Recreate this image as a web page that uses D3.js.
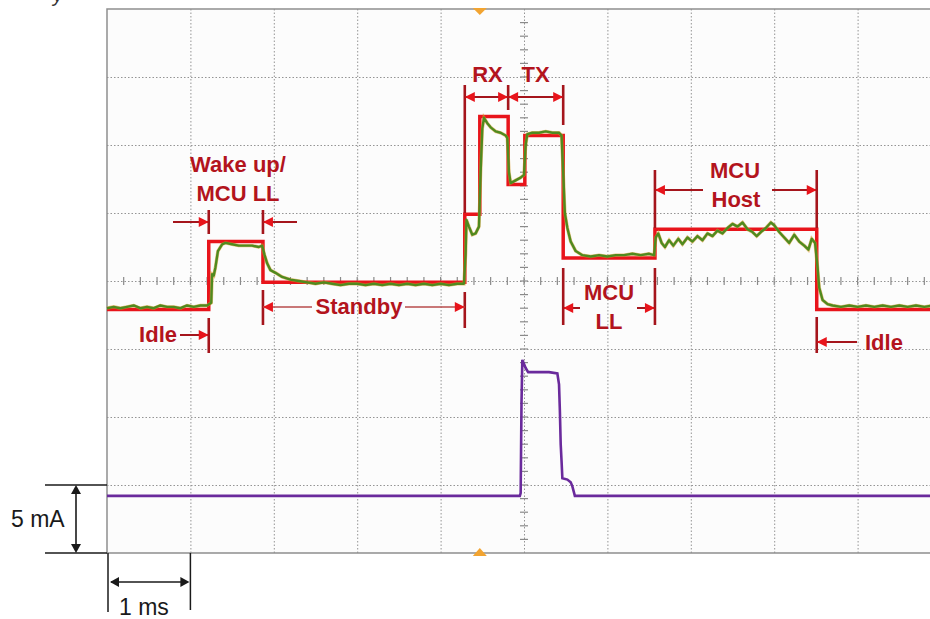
<!DOCTYPE html>
<html>
<head>
<meta charset="utf-8">
<script src="https://cdn.jsdelivr.net/npm/d3@7"></script>
<style>
  body { margin: 0; background: #fff; }
  svg { display: block; font-family: "Liberation Sans", Arial, sans-serif; }
</style>
</head>
<body>
<svg id="chart"></svg>
<script>
var width = 930,
	height = 619;

// red idealised staircase: step start time (ms) and level (mA, screen units)
var stepTimes  = [0, 1.22, 1.87, 4.29, 4.47, 4.81, 5.01, 5.47, 6.57, 8.51, 10];
var stepLevels = [17.9, 22.9, 19.9, 24.9, 32.1, 27.1, 30.7, 21.7, 23.8, 17.9, 17.9];

var greenT = [0.00,0.08,0.16,0.24,0.32,0.40,0.48,0.56,0.64,0.72,0.80,0.88,0.96,1.04,1.12,1.20,
	1.25,1.26,1.28,1.30,1.33,1.38,1.42,1.50,1.58,1.66,1.74,1.82,1.86,
	1.89,1.92,1.96,2.02,2.10,2.20,2.30,2.40,2.50,2.60,2.70,2.80,2.90,3.00,3.10,3.20,3.30,3.40,3.50,3.60,3.70,3.80,3.90,4.00,4.10,4.20,4.28,
	4.30,4.31,4.34,4.38,4.42,4.46,4.48,4.50,4.52,4.56,4.60,4.66,4.72,4.78,4.80,4.82,4.84,4.90,4.96,5.00,
	5.02,5.04,5.10,5.18,5.26,5.34,5.42,5.45,5.47,5.49,5.52,5.56,5.62,5.70,5.80,5.90,6.00,6.10,6.20,6.30,6.40,6.50,6.56,
	6.58,6.61,6.65,6.69,6.74,6.79,6.85,6.90,6.96,7.02,7.08,7.14,7.20,7.26,7.32,7.38,7.44,7.50,7.56,7.62,7.68,7.74,7.79,7.84,7.90,7.96,8.00,8.06,8.12,8.18,8.24,8.30,8.36,8.41,8.45,8.49,
	8.52,8.54,8.58,8.64,8.70,8.80,8.90,9.00,9.10,9.20,9.30,9.40,9.50,9.60,9.70,9.80,9.90,10.0];
var greenI = [18.0,18.1,18.0,18.1,18.2,18.0,18.1,18.0,18.2,18.1,18.1,18.0,18.2,18.1,18.2,18.2,
	18.4,20.5,20.4,21.0,22.2,22.7,22.8,22.7,22.6,22.6,22.6,22.5,22.6,
	21.9,21.3,20.8,20.6,20.3,20.1,20.0,19.9,19.8,19.9,19.8,19.7,19.8,19.8,19.7,19.8,19.7,19.8,19.7,19.8,19.7,19.8,19.7,19.8,19.7,19.8,19.8,
	22.0,24.5,24.0,23.4,23.5,24.0,28.0,31.2,32.0,31.6,31.3,31.0,30.9,30.7,30.5,28.0,27.2,27.4,27.6,27.8,
	30.0,30.8,30.9,30.9,31.0,30.9,30.9,30.7,28.0,25.0,23.9,22.9,22.2,21.9,21.8,21.9,21.8,21.9,21.9,22.0,21.9,22.0,21.9,
	23.2,23.5,22.8,22.5,23.0,22.6,23.1,22.7,23.2,22.9,23.3,23.0,23.5,23.3,23.7,23.5,23.9,24.2,24.0,24.3,23.8,23.6,23.3,23.6,23.9,24.3,24.1,23.6,23.2,22.8,23.4,22.9,22.6,22.3,23.1,22.8,
	21.0,19.5,18.6,18.3,18.2,18.1,18.2,18.1,18.2,18.1,18.2,18.1,18.2,18.1,18.2,18.1,18.2,18.1];

// purple radio current trace
var purpleT = [0, 4.95, 4.96, 4.97, 4.98, 5.00, 5.02, 5.05, 5.20, 5.30, 5.40, 5.42, 5.43, 5.44, 5.45, 5.46, 5.52, 5.56, 5.58, 5.61, 10];
var purpleI = [4.2, 4.2, 4.4, 11.0, 14.2, 13.9, 13.6, 13.3, 13.3, 13.3, 13.2, 12.4, 10.5, 8.0, 6.8, 5.5, 5.4, 5.2, 4.9, 4.2, 4.2];

var triggerT = 4.47;

var svg = d3.select("#chart")
			.attr("width", width)
			.attr("height", height);

var x = d3.scaleLinear().domain([0, 10]).range([107, 941]);
var y = d3.scaleLinear().domain([0, 40]).range([553, 9]);

var red = "#e8141b",
	dark = "#a5151c",
	txt = "#b3141d";

// plot background
svg.append("rect")
	.attr("x", x(0)).attr("y", y(40))
	.attr("width", x(10) - x(0)).attr("height", y(0) - y(40))
	.attr("fill", "#fcfcfc");

// dotted grid
var gx = svg.append("g")
	.attr("transform", "translate(0," + y(0) + ")")
	.call(d3.axisBottom(x).tickValues(d3.range(1, 10)).tickSize(-(y(0) - y(40))).tickFormat(""));
var gy = svg.append("g")
	.attr("transform", "translate(" + x(0) + ",0)")
	.call(d3.axisLeft(y).tickValues(d3.range(5, 40, 5)).tickSize(-(x(10) - x(0))).tickFormat(""));
[gx, gy].forEach(function(g) {
	g.select(".domain").remove();
	g.selectAll("line")
		.attr("stroke", "#949494")
		.attr("stroke-width", 1)
		.attr("stroke-dasharray", "1.5,2");
});

// minor ticks on centre lines
svg.append("g").selectAll("line")
	.data(d3.range(0.2, 10, 0.2))
	.enter().append("line")
	.attr("x1", function(d) { return x(d); })
	.attr("x2", function(d) { return x(d); })
	.attr("y1", y(20) - 4).attr("y2", y(20) + 4)
	.attr("stroke", "#8a8a8a").attr("stroke-width", 1.2);
svg.append("g").selectAll("line")
	.data(d3.range(1, 40, 1))
	.enter().append("line")
	.attr("y1", function(d) { return y(d); })
	.attr("y2", function(d) { return y(d); })
	.attr("x1", x(5) - 4).attr("x2", x(5) + 4)
	.attr("stroke", "#8a8a8a").attr("stroke-width", 1.2);

// frame
svg.append("rect")
	.attr("x", x(0)).attr("y", y(40))
	.attr("width", x(10) - x(0)).attr("height", y(0) - y(40))
	.attr("fill", "none")
	.attr("stroke", "#8e8e8e")
	.attr("stroke-width", 1.5);

// traces
var stepData = stepTimes.map(function(t, i) { return [t, stepLevels[i]]; });
var greenData = greenT.map(function(t, i) { return [t, greenI[i]]; });
var purpleData = purpleT.map(function(t, i) { return [t, purpleI[i]]; });

var line = d3.line()
	.x(function(d) { return x(d[0]); })
	.y(function(d) { return y(d[1]); });

svg.append("path")
	.attr("d", line.curve(d3.curveStepAfter)(stepData))
	.attr("fill", "none")
	.attr("stroke", red)
	.attr("stroke-width", 3.5);

svg.append("path")
	.attr("d", line.curve(d3.curveLinear)(greenData))
	.attr("fill", "none")
	.attr("stroke", "#d99a2a")
	.attr("stroke-width", 3.4)
	.attr("opacity", 0.6);
svg.append("path")
	.attr("d", line(greenData))
	.attr("fill", "none")
	.attr("stroke", "#4f8a1f")
	.attr("stroke-width", 2.4)
	.attr("stroke-linejoin", "round");

svg.append("path")
	.attr("d", line(purpleData))
	.attr("fill", "none")
	.attr("stroke", "#6a2a9c")
	.attr("stroke-width", 2.6);

// trigger markers
var tri = svg.append("g").attr("fill", "#f2a431");
tri.append("path")
	.attr("d", "M" + (x(triggerT) - 7) + "," + (y(40) - 1) + "L" + (x(triggerT) + 7) + "," + (y(40) - 1) + "L" + x(triggerT) + "," + (y(40) + 6) + "Z");
tri.append("path")
	.attr("d", "M" + (x(triggerT) - 7) + "," + (y(0) + 3) + "L" + (x(triggerT) + 7) + "," + (y(0) + 3) + "L" + x(triggerT) + "," + (y(0) - 5) + "Z");

// annotation helpers
var ann = svg.append("g");

function bar(px, y1, y2, col, w) {
	ann.append("line")
		.attr("x1", px).attr("x2", px)
		.attr("y1", y1).attr("y2", y2)
		.attr("stroke", col || dark)
		.attr("stroke-width", w || 2.6);
}
function head(tipX, tipY, dir, col, len, half) {
	len = len || 10; half = half || 5;
	var p;
	if (dir === "right") p = [[tipX, tipY], [tipX - len, tipY - half], [tipX - len, tipY + half]];
	if (dir === "left") p = [[tipX, tipY], [tipX + len, tipY - half], [tipX + len, tipY + half]];
	if (dir === "up") p = [[tipX, tipY], [tipX - half, tipY + len], [tipX + half, tipY + len]];
	if (dir === "down") p = [[tipX, tipY], [tipX - half, tipY - len], [tipX + half, tipY - len]];
	ann.append("path")
		.attr("d", "M" + p.join("L") + "Z")
		.attr("fill", col || red);
}
function hline(x1, x2, py, col, w) {
	ann.append("line")
		.attr("x1", x1).attr("x2", x2)
		.attr("y1", py).attr("y2", py)
		.attr("stroke", col || dark)
		.attr("stroke-width", w || 2);
}
function label(str, px, py, anchor, col, size, weight) {
	return ann.append("text")
		.attr("x", px).attr("y", py)
		.attr("text-anchor", anchor || "middle")
		.attr("fill", col || txt)
		.attr("font-size", size || 22)
		.attr("font-weight", weight || "bold")
		.text(str);
}

// Wake up / MCU LL
bar(x(stepTimes[1]), 210, 234);
bar(x(stepTimes[2]), 210, 234);
hline(173, x(stepTimes[1]), 222);
head(x(stepTimes[1]), 222, "right");
hline(297, x(stepTimes[2]), 222);
head(x(stepTimes[2]), 222, "left");
label("Wake up/", 238, 172);
label("MCU LL", 238, 201);

// Idle (left)
bar(x(stepTimes[1]), 318, 353);
hline(180, x(stepTimes[1]), 335);
head(x(stepTimes[1]), 335, "right");
label("Idle", 177, 342, "end");

// Standby
bar(x(stepTimes[2]), 290, 325);
bar(x(stepTimes[3]), 292, 328);
hline(x(stepTimes[2]), 312, 307, "#b94c4c", 1.6);
hline(405, x(stepTimes[3]), 307, "#b94c4c", 1.6);
head(x(stepTimes[2]), 307, "left");
head(x(stepTimes[3]), 307, "right");
label("Standby", 359, 314);

// RX / TX
bar(x(stepTimes[3]), 85, 213);
bar(x(stepTimes[5]), 85, 110);
bar(x(stepTimes[7]), 85, 125);
hline(x(stepTimes[3]), x(stepTimes[7]), 97);
head(x(stepTimes[3]), 97, "left");
head(x(stepTimes[5]), 97, "right");
head(x(stepTimes[5]), 97, "left");
head(x(stepTimes[7]), 97, "right");
label("RX", (x(stepTimes[3]) + x(stepTimes[5])) / 2 + 1, 82);
label("TX", (x(stepTimes[5]) + x(stepTimes[7])) / 2, 82);

// MCU LL
bar(x(stepTimes[7]), 268, 325);
bar(x(stepTimes[8]), 268, 325);
hline(x(stepTimes[7]), 580, 308);
head(x(stepTimes[7]), 308, "left");
hline(637, x(stepTimes[8]), 308);
head(x(stepTimes[8]), 308, "right");
label("MCU", 609, 300);
label("LL", 609, 329);

// MCU Host
bar(x(stepTimes[8]), 170, 228);
bar(x(stepTimes[9]), 170, 228);
hline(x(stepTimes[8]), 703, 190);
head(x(stepTimes[8]), 190, "left");
hline(772, x(stepTimes[9]), 190);
head(x(stepTimes[9]), 190, "right");
label("MCU", 735, 178);
label("Host", 736, 207);

// Idle (right)
bar(x(stepTimes[9]), 317, 353);
hline(x(stepTimes[9]), 857, 342);
head(x(stepTimes[9]), 342, "left");
label("Idle", 865, 350, "start");

// scale annotations (black)
var blk = "#1a1a1a";
hline(45, x(0), y(5), blk, 1.5);
hline(45, x(0), y(0), blk, 1.5);
bar(76, y(5) + 4, y(0) - 4, blk, 1.6);
head(76, y(5), "up", blk, 9, 5);
head(76, y(0), "down", blk, 9, 5);
label("5 mA", 11, 527, "start", blk, 23, "normal");

bar(x(0) + 1, y(0), 612, blk, 1.5);
bar(x(1), y(0), 610, blk, 1.5);
hline(x(0) + 4, x(1) - 4, 582, blk, 1.6);
head(x(0) + 3, 582, "left", blk, 9, 5);
head(x(1) - 1, 582, "right", blk, 9, 5);
label("1 ms", 119, 615, "start", blk, 23, "normal");

// clipped caption descender at the very top
label("y", 53, 2, "start", "#333", 20, "normal").attr("font-style", "italic");
</script>
</body>
</html>
